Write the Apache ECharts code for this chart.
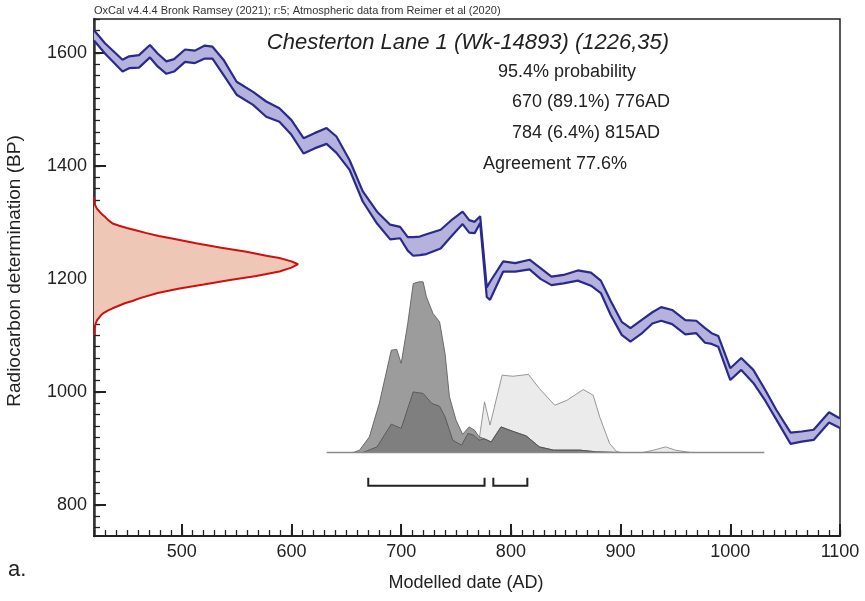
<!DOCTYPE html>
<html>
<head>
<meta charset="utf-8">
<title>Chesterton Lane 1 (Wk-14893)</title>
<script src="https://cdn.jsdelivr.net/npm/echarts@6/dist/echarts.min.js"></script>
<style>
  html, body { margin: 0; padding: 0; background: #fff; }
  #chart { width: 865px; height: 601px; }
</style>
</head>
<body>
<div id="chart"></div>
<script>
// calibration curve band (AD, BP)
var curveYear = [420, 430, 446, 452, 461, 471, 478, 486, 493, 503, 512, 521, 528, 538, 550, 565, 577, 589, 600, 611,
  621, 632, 641, 653, 665, 678, 690, 699, 706, 711, 717, 723, 736, 747, 756, 762, 767, 772, 778, 781,
  793, 804, 817, 827, 837, 848, 861, 873, 882, 891, 901, 909, 919, 929, 937, 947, 959, 969, 977, 983,
  989, 1000, 1010, 1021, 1032, 1042, 1055, 1065, 1076, 1090, 1100];
var curveUpper = [1640, 1617, 1588, 1594, 1596, 1614, 1599, 1585, 1589, 1606, 1604, 1613, 1611, 1588, 1549, 1531, 1514, 1502, 1481, 1449,
  1458, 1467, 1452, 1410, 1355, 1319, 1296, 1292, 1274, 1274, 1275, 1279, 1287, 1306, 1319, 1304, 1301, 1311, 1185, 1195,
  1231, 1228, 1234, 1219, 1204, 1207, 1215, 1211, 1197, 1161, 1124, 1113, 1127, 1141, 1150, 1145, 1127, 1126, 1113, 1104,
  1099, 1042, 1060, 1039, 1003, 968, 928, 930, 933, 964, 953];
var curveLower = [1622, 1599, 1567, 1573, 1574, 1592, 1576, 1563, 1567, 1584, 1582, 1590, 1590, 1561, 1526, 1508, 1487, 1478, 1455, 1422,
  1431, 1439, 1423, 1393, 1337, 1298, 1270, 1272, 1250, 1241, 1242, 1244, 1254, 1278, 1297, 1282, 1281, 1299, 1168, 1163,
  1213, 1213, 1217, 1200, 1189, 1192, 1197, 1188, 1175, 1136, 1101, 1089, 1103, 1121, 1126, 1120, 1102, 1104, 1087, 1085,
  1080, 1021, 1039, 1016, 984, 951, 908, 912, 915, 946, 936];

// radiocarbon date 1226,35 : BP and how far it reaches along the date axis
var dateBP = [1345, 1332, 1325, 1319, 1314, 1309, 1304, 1298, 1294, 1290, 1286, 1281, 1276, 1272, 1263, 1255, 1248, 1241, 1237, 1231, 1226,
  1220, 1213, 1205, 1198, 1190, 1183, 1175, 1166, 1161, 1157, 1152, 1148, 1144, 1140, 1136, 1133, 1127, 1120, 1113, 1100];
var dateReach = [420, 420.6, 422.5, 425, 427.5, 430.5, 433, 437, 443, 450, 458, 468, 479, 490, 513, 536, 559, 577, 589, 600, 606,
  600, 589, 568, 544, 520, 498, 478, 462, 455, 448, 442, 437, 432.5, 429, 426.5, 425, 422.8, 421.3, 420.5, 420];

// likelihood (light), posterior (mid grey) and the darker band where both overlap
var likeYear = [665, 678, 691, 700, 711, 720, 728, 735, 740, 747, 755, 761, 766, 771, 776, 781, 792, 802, 816, 826,
  840, 851, 866, 875, 881, 890, 896, 900, 920, 930, 941, 950, 964];
var likeProb = [0, 0.033, 0.166, 0.141, 0.355, 0.346, 0.287, 0.271, 0.208, 0.072, 0.043, 0.112, 0.101, 0.072, 0.297, 0.161, 0.453, 0.447, 0.458, 0.375,
  0.277, 0.306, 0.369, 0.336, 0.208, 0.053, 0.008, 0, 0, 0.014, 0.033, 0.014, 0];
var postYear = [656, 662, 671, 680, 691, 696, 700, 706, 711, 716, 720, 723, 729, 735, 740, 744, 750, 756, 762, 767,
  771, 776, 782, 791, 801, 814, 826, 839, 863, 878, 899];
var postProb = [0, 0.013, 0.092, 0.287, 0.60, 0.604, 0.522, 0.756, 0.99, 1.0, 1.0, 0.912, 0.815, 0.766, 0.58, 0.327, 0.19, 0.107, 0.15, 0.13,
  0.092, 0.08, 0.062, 0.15, 0.126, 0.097, 0.033, 0.014, 0.014, 0.004, 0];
var bothYear = [665, 678, 691, 700, 711, 720, 728, 735, 740, 747, 755, 761, 766, 771, 776, 782, 791, 801, 814, 826, 839, 863, 878, 899];
var bothProb = [0, 0.033, 0.166, 0.141, 0.355, 0.346, 0.287, 0.271, 0.208, 0.072, 0.043, 0.112, 0.101, 0.072, 0.08, 0.062, 0.15, 0.126, 0.097, 0.033, 0.014, 0.014, 0.004, 0];
var distSpan = [632, 1031];

// 95.4% ranges
var ranges = [[670, 776], [784, 815]];

var xMajor = [500, 600, 700, 800, 900, 1000, 1100];
var yMajor = [800, 1000, 1200, 1400, 1600];

var FONT = '"Liberation Sans", Arial, sans-serif';
var NAVY = '#2b2a8c';

function pairs(xs, ys) {
  return xs.map(function (x, i) { return [x, ys[i]]; });
}

var yMinor = [];
for (var v = 760; v <= 1660; v += 20) yMinor.push(v);

var bandPoly = pairs(curveYear, curveUpper).concat(pairs(curveYear, curveLower).reverse());
var datePoly = pairs(dateReach, dateBP);

function polygon(points, fill, yIdx) {
  return {
    type: 'custom',
    yAxisIndex: yIdx || 0,
    silent: true,
    data: [points[0]],
    renderItem: function (params, api) {
      return {
        type: 'polygon',
        shape: { points: points.map(function (p) { return api.coord(p); }) },
        style: { fill: fill }
      };
    }
  };
}

function line(data, color, width, yIdx, area) {
  var s = {
    type: 'line',
    yAxisIndex: yIdx || 0,
    data: data,
    symbol: 'none',
    silent: true,
    lineStyle: { color: color, width: width }
  };
  if (area) s.areaStyle = { color: area, opacity: 1, origin: 0 };
  return s;
}

function plain(v) { return String(v); }

var chart = echarts.init(document.getElementById('chart'));

var option = {
  animation: false,
  grid: { left: 94, right: 25, top: 19, bottom: 65, show: true, borderColor: '#222', borderWidth: 1.5 },
  xAxis: [
    {
      type: 'value', min: 420, max: 1100, interval: 10, position: 'bottom',
      axisLine: { onZero: false, lineStyle: { color: '#222', width: 2 } },
      axisTick: { inside: true, length: 6, lineStyle: { color: '#222', width: 1.3 } },
      axisLabel: { show: false }, splitLine: { show: false }
    },
    {
      type: 'value', min: 420, max: 1100, position: 'bottom',
      axisLine: { show: false, onZero: false },
      axisTick: { inside: true, length: 12, customValues: xMajor, lineStyle: { color: '#222', width: 2 } },
      axisLabel: { customValues: xMajor, formatter: plain, margin: 7, fontFamily: FONT, fontSize: 18, color: '#222' },
      splitLine: { show: false }
    }
  ],
  yAxis: [
    {
      type: 'value', min: 745, max: 1660, position: 'left',
      axisLine: { onZero: false, lineStyle: { color: '#333', width: 2.5 } },
      axisTick: { inside: true, length: 6, customValues: yMinor, lineStyle: { color: '#222', width: 1.3 } },
      axisLabel: { show: false }, splitLine: { show: false }
    },
    {
      type: 'value', min: 745, max: 1660, position: 'left',
      axisLine: { show: false, onZero: false },
      axisTick: { inside: true, length: 12, customValues: yMajor, lineStyle: { color: '#222', width: 2 } },
      axisLabel: { customValues: yMajor, formatter: plain, margin: 7, fontFamily: FONT, fontSize: 18, color: '#222' },
      splitLine: { show: false }
    },
    {
      type: 'value', min: -0.489, max: 2.54, show: false,
      axisLine: { onZero: false }, splitLine: { show: false }
    }
  ],
  series: [
    polygon(datePoly, '#efc7b7'),
    line(datePoly, '#d10f0f', 2),
    polygon(bandPoly, '#b5b3de'),
    line(pairs(curveYear, curveUpper), NAVY, 2.2),
    line(pairs(curveYear, curveLower), NAVY, 2.2),
    line(pairs(likeYear, likeProb), '#8c8c8c', 0.9, 2, '#ebebeb'),
    line(pairs(postYear, postProb), '#606060', 0.9, 2, '#9c9c9c'),
    line(pairs(bothYear, bothProb), '#555', 0.9, 2, '#7f7f7f'),
    line([[distSpan[0], 0], [distSpan[1], 0]], '#8a8a8a', 1.5, 2),
    {
      type: 'custom',
      silent: true,
      data: ranges,
      encode: { x: [0, 1] },
      renderItem: function (params, api) {
        var a = api.coord([api.value(0), 834]);
        var b = api.coord([api.value(1), 834]);
        return {
          type: 'polyline',
          shape: { points: [[a[0], a[1] - 8], a, b, [b[0], b[1] - 8]] },
          style: { stroke: '#222', lineWidth: 2, fill: null }
        };
      }
    }
  ],
  graphic: [
    { type: 'text', x: 94, y: 11, style: { text: 'OxCal v4.4.4 Bronk Ramsey (2021); r:5; Atmospheric data from Reimer et al (2020)', font: '11px ' + FONT, fill: '#333', align: 'left', verticalAlign: 'middle' } },
    { type: 'text', x: 468, y: 43, style: { text: 'Chesterton Lane 1 (Wk-14893) (1226,35)', font: 'italic 22px ' + FONT, fill: '#222', align: 'center', verticalAlign: 'middle' } },
    { type: 'text', x: 498, y: 72, style: { text: '95.4% probability', font: '18px ' + FONT, fill: '#222', align: 'left', verticalAlign: 'middle' } },
    { type: 'text', x: 512, y: 102, style: { text: '670 (89.1%) 776AD', font: '18px ' + FONT, fill: '#222', align: 'left', verticalAlign: 'middle' } },
    { type: 'text', x: 512, y: 133, style: { text: '784 (6.4%) 815AD', font: '18px ' + FONT, fill: '#222', align: 'left', verticalAlign: 'middle' } },
    { type: 'text', x: 483, y: 164, style: { text: 'Agreement 77.6%', font: '18px ' + FONT, fill: '#222', align: 'left', verticalAlign: 'middle' } },
    { type: 'text', x: 466, y: 583, style: { text: 'Modelled date (AD)', font: '18px ' + FONT, fill: '#222', align: 'center', verticalAlign: 'middle' } },
    { type: 'text', x: 15, y: 271, rotation: Math.PI / 2, style: { text: 'Radiocarbon determination (BP)', font: '19px ' + FONT, fill: '#222', align: 'center', verticalAlign: 'middle' } },
    { type: 'text', x: 8, y: 570, style: { text: 'a.', font: '22px ' + FONT, fill: '#222', align: 'left', verticalAlign: 'middle' } }
  ]
};

chart.setOption(option);
</script>
</body>
</html>
